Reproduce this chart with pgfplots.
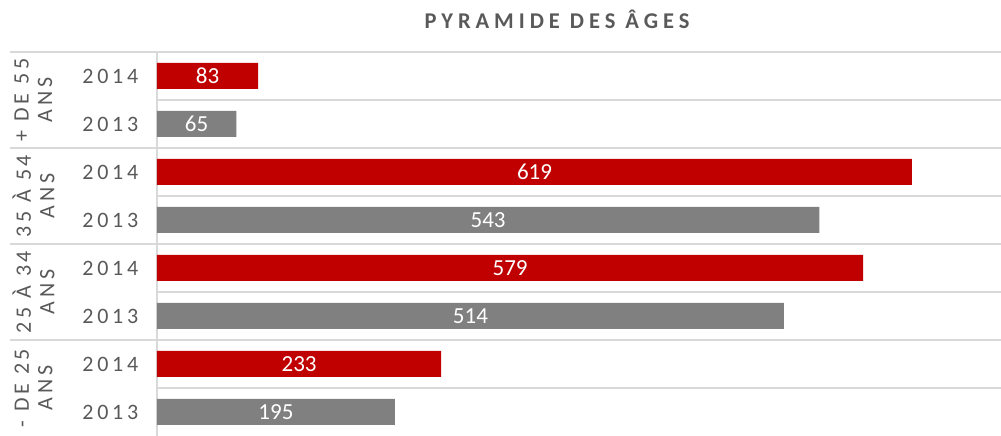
\documentclass[border=0pt]{standalone}
\usepackage{pgfplots}
\pgfplotsset{compat=1.18}
\usepackage{fontspec}
\setmainfont{Carlito}
\newfontfamily\spaced[LetterSpace=17]{Carlito}
\newfontfamily\titlefont[LetterSpace=22]{Carlito}
\definecolor{barred}{HTML}{C00000}
\definecolor{bargray}{HTML}{808080}
\definecolor{txtgray}{HTML}{595959}
\definecolor{gridgray}{HTML}{D9D9D9}
\tikzset{grplab/.style={rotate=90, align=center, text=txtgray, font=\spaced\fontsize{22}{23.5}\selectfont}}
\begin{document}
\begin{tikzpicture}
\path[use as bounding box] (0,0) rectangle (1001pt,436pt);
\begin{axis}[
  at={(157pt,0pt)}, anchor=south west,
  scale only axis, width=844pt, height=384pt,
  xbar, bar width=26pt, bar shift=0pt,
  xmin=0, xmax=692, ymin=-0.5, ymax=7.5,
  axis line style={draw=none},
  xtick=\empty,
  ytick={0,1,2,3,4,5,6,7},
  yticklabels={2013,2014,2013,2014,2013,2014,2013,2014},
  ytick style={draw=none},
  yticklabel style={font=\spaced\fontsize{22}{24}\selectfont, text=txtgray, xshift=-11pt},
  clip=false,
  /pgf/number format/assume math mode=true,
  visualization depends on=x \as \rawx,
  nodes near coords,
  every node near coord/.append style={anchor=center, shift={(axis direction cs:-\rawx/2,0)}, font=\fontsize{23}{24}\selectfont, text=white},
]
% gridlines
\draw[gridgray, line width=1.2pt] (axis cs:0,-0.5) -- (axis cs:0,7.5);
\draw[gridgray, line width=1.2pt] (axis cs:0,0.5) -- (axis cs:692,0.5);
\draw[gridgray, line width=1.2pt] (axis cs:0,2.5) -- (axis cs:692,2.5);
\draw[gridgray, line width=1.2pt] (axis cs:0,4.5) -- (axis cs:692,4.5);
\draw[gridgray, line width=1.2pt] (axis cs:0,6.5) -- (axis cs:692,6.5);
\draw[gridgray, line width=1.2pt] (axis cs:692,1.5) -- ([xshift=-147pt]axis cs:0,1.5);
\draw[gridgray, line width=1.2pt] (axis cs:692,3.5) -- ([xshift=-147pt]axis cs:0,3.5);
\draw[gridgray, line width=1.2pt] (axis cs:692,5.5) -- ([xshift=-147pt]axis cs:0,5.5);
\draw[gridgray, line width=1.2pt] (axis cs:692,7.5) -- ([xshift=-147pt]axis cs:0,7.5);
% group labels
\node[grplab] at ([xshift=-123.5pt]axis cs:0,6.5) {+ DE 55\\ANS};
\node[grplab] at ([xshift=-123.5pt]axis cs:0,4.5) {35 À 54\\ANS};
\node[grplab] at ([xshift=-123.5pt]axis cs:0,2.5) {25 À 34\\ANS};
\node[grplab] at ([xshift=-123.5pt]axis cs:0,0.5) {- DE 25\\ANS};
\addplot[fill=barred, draw=none] coordinates {(83,7) (619,5) (579,3) (233,1)};
\addplot[fill=bargray, draw=none] coordinates {(65,6) (543,4) (514,2) (195,0)};
\end{axis}
\node[text=txtgray, font=\titlefont\bfseries\fontsize{22.5}{26}\selectfont] at (557pt,417pt) {PYRAMIDE DES ÂGES};
\end{tikzpicture}
\end{document}
